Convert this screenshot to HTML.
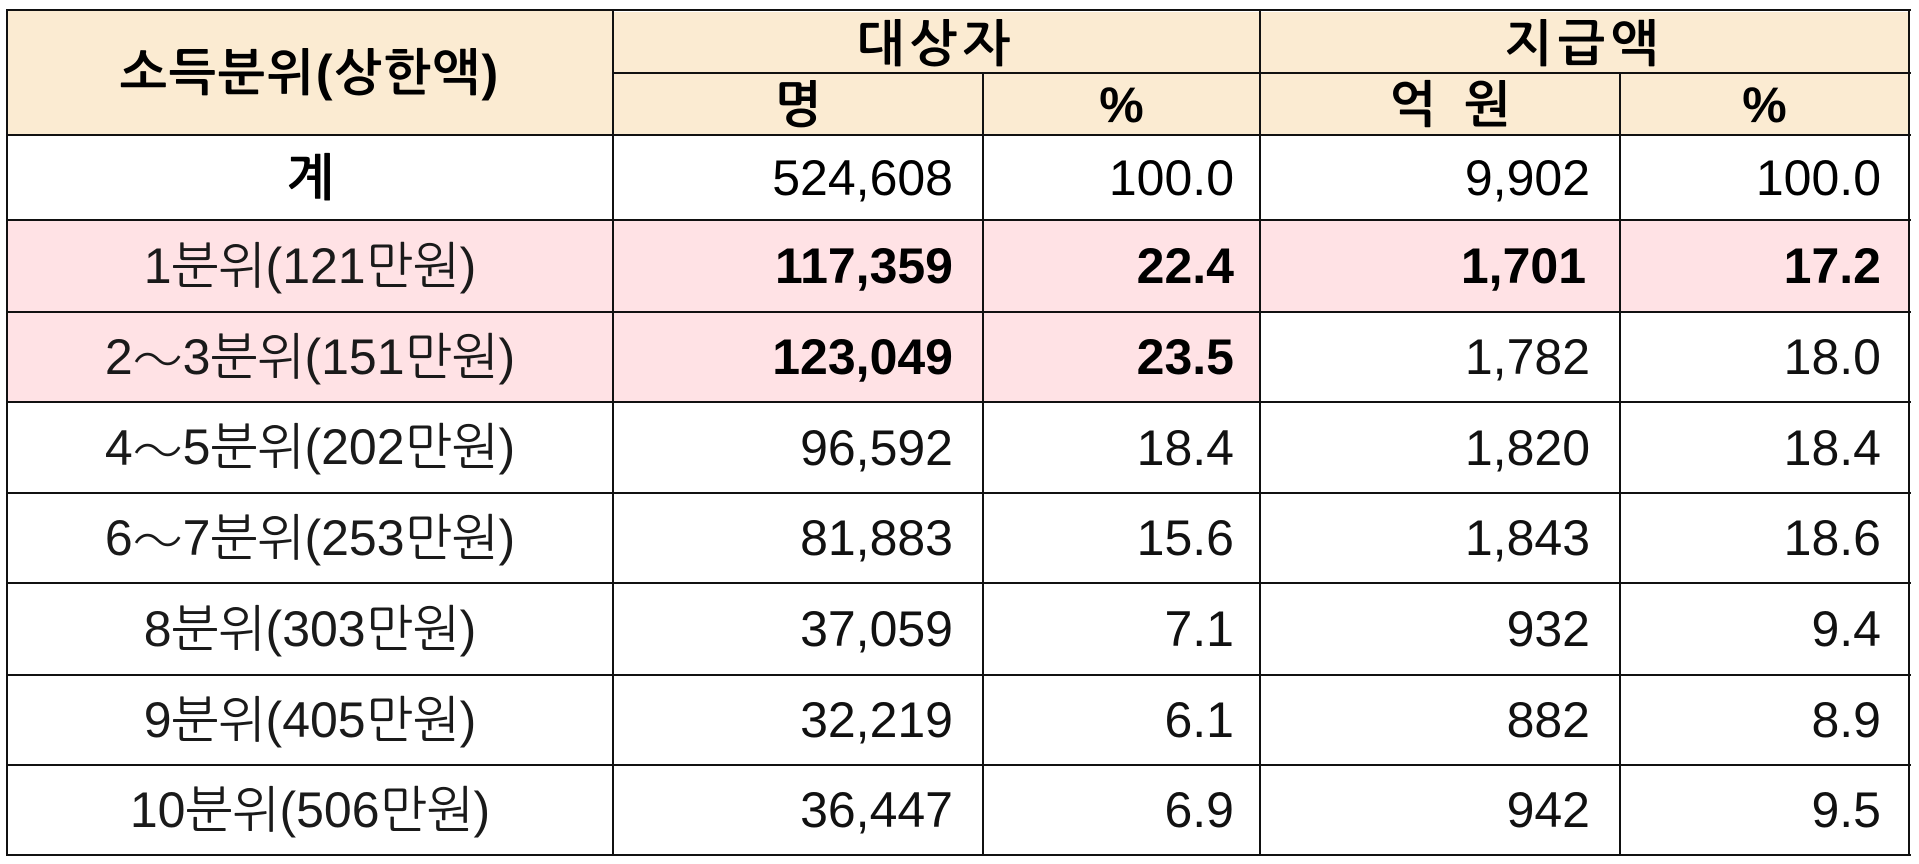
<!DOCTYPE html>
<html><head><meta charset="utf-8">
<style>
html,body{margin:0;padding:0;background:#fff;}
body{width:1919px;height:864px;position:relative;overflow:hidden;font-family:"Liberation Sans","NanumGothic","Noto Sans CJK KR",sans-serif;}
.c{position:absolute;display:flex;align-items:center;box-sizing:border-box;white-space:nowrap;color:#111;font-size:50px;}
.h{background:#FBEBD2;justify-content:center;font-weight:bold;color:#000;}
.p{background:#FFE2E5;}
.w{background:#fff;}
.l{justify-content:center;color:#1a1a1a;}
.n{justify-content:flex-end;padding-right:30px;}
.b{font-weight:bold;color:#000;}
.t{font-family:"Noto Sans CJK KR","NanumGothic",sans-serif;font-weight:300;}
.hl{position:absolute;background:#111;height:2px;}
.vl{position:absolute;background:#111;width:2px;}
</style></head><body>
<!-- header -->
<div class="c h" style="left:7px;top:10px;width:606px;height:125px;letter-spacing:2px;">소득분위(상한액)</div>
<div class="c h" style="left:613px;top:12px;width:647px;height:63px;letter-spacing:6px;">대상자</div>
<div class="c h" style="left:1260px;top:12px;width:649px;height:63px;letter-spacing:6px;">지급액</div>
<div class="c h" style="left:613px;top:75px;width:370px;height:60px;">명</div>
<div class="c h" style="left:983px;top:75px;width:277px;height:60px;">%</div>
<div class="c h" style="left:1260px;top:75px;width:360px;height:60px;padding-left:20px;">억&nbsp;&nbsp;원</div>
<div class="c h" style="left:1620px;top:75px;width:289px;height:60px;">%</div>

<!-- row 계 -->
<div class="c w l b" style="left:7px;top:135px;width:606px;height:85px;">계</div>
<div class="c w n" style="left:613px;top:135px;width:370px;height:85px;color:#000;">524,608</div>
<div class="c w n" style="left:983px;top:135px;width:277px;height:85px;padding-right:26px;color:#000;">100.0</div>
<div class="c w n" style="left:1260px;top:135px;width:360px;height:85px;color:#000;">9,902</div>
<div class="c w n" style="left:1620px;top:135px;width:289px;height:85px;padding-right:28px;color:#000;">100.0</div>

<!-- row 1 -->
<div class="c p l" style="left:7px;top:220px;width:606px;height:92px;">1분위(121만원)</div>
<div class="c p n b" style="left:613px;top:220px;width:370px;height:92px;">117,359</div>
<div class="c p n b" style="left:983px;top:220px;width:277px;height:92px;padding-right:26px;">22.4</div>
<div class="c p n b" style="left:1260px;top:220px;width:360px;height:92px;padding-right:34px;">1,701</div>
<div class="c p n b" style="left:1620px;top:220px;width:289px;height:92px;padding-right:28px;">17.2</div>

<!-- row 2~3 -->
<div class="c p l" style="left:7px;top:312px;width:606px;height:90px;">2<span class="t">～</span>3분위(151만원)</div>
<div class="c p n b" style="left:613px;top:312px;width:370px;height:90px;">123,049</div>
<div class="c p n b" style="left:983px;top:312px;width:277px;height:90px;padding-right:26px;">23.5</div>
<div class="c w n" style="left:1260px;top:312px;width:360px;height:90px;">1,782</div>
<div class="c w n" style="left:1620px;top:312px;width:289px;height:90px;padding-right:28px;">18.0</div>

<!-- row 4~5 -->
<div class="c w l" style="left:7px;top:402px;width:606px;height:91px;">4<span class="t">～</span>5분위(202만원)</div>
<div class="c w n" style="left:613px;top:402px;width:370px;height:91px;">96,592</div>
<div class="c w n" style="left:983px;top:402px;width:277px;height:91px;padding-right:26px;">18.4</div>
<div class="c w n" style="left:1260px;top:402px;width:360px;height:91px;">1,820</div>
<div class="c w n" style="left:1620px;top:402px;width:289px;height:91px;padding-right:28px;">18.4</div>

<!-- row 6~7 -->
<div class="c w l" style="left:7px;top:493px;width:606px;height:90px;">6<span class="t">～</span>7분위(253만원)</div>
<div class="c w n" style="left:613px;top:493px;width:370px;height:90px;">81,883</div>
<div class="c w n" style="left:983px;top:493px;width:277px;height:90px;padding-right:26px;">15.6</div>
<div class="c w n" style="left:1260px;top:493px;width:360px;height:90px;">1,843</div>
<div class="c w n" style="left:1620px;top:493px;width:289px;height:90px;padding-right:28px;">18.6</div>

<!-- row 8 -->
<div class="c w l" style="left:7px;top:583px;width:606px;height:92px;">8분위(303만원)</div>
<div class="c w n" style="left:613px;top:583px;width:370px;height:92px;">37,059</div>
<div class="c w n" style="left:983px;top:583px;width:277px;height:92px;padding-right:26px;">7.1</div>
<div class="c w n" style="left:1260px;top:583px;width:360px;height:92px;">932</div>
<div class="c w n" style="left:1620px;top:583px;width:289px;height:92px;padding-right:28px;">9.4</div>

<!-- row 9 -->
<div class="c w l" style="left:7px;top:675px;width:606px;height:90px;">9분위(405만원)</div>
<div class="c w n" style="left:613px;top:675px;width:370px;height:90px;">32,219</div>
<div class="c w n" style="left:983px;top:675px;width:277px;height:90px;padding-right:26px;">6.1</div>
<div class="c w n" style="left:1260px;top:675px;width:360px;height:90px;">882</div>
<div class="c w n" style="left:1620px;top:675px;width:289px;height:90px;padding-right:28px;">8.9</div>

<!-- row 10 -->
<div class="c w l" style="left:7px;top:765px;width:606px;height:90px;">10분위(506만원)</div>
<div class="c w n" style="left:613px;top:765px;width:370px;height:90px;">36,447</div>
<div class="c w n" style="left:983px;top:765px;width:277px;height:90px;padding-right:26px;">6.9</div>
<div class="c w n" style="left:1260px;top:765px;width:360px;height:90px;">942</div>
<div class="c w n" style="left:1620px;top:765px;width:289px;height:90px;padding-right:28px;">9.5</div>

<!-- horizontal lines -->
<div class="hl" style="left:7px;top:9px;width:1904px;"></div>
<div class="hl" style="left:613px;top:72px;width:1298px;"></div>
<div class="hl" style="left:7px;top:134px;width:1904px;"></div>
<div class="hl" style="left:7px;top:219px;width:1904px;"></div>
<div class="hl" style="left:7px;top:311px;width:1904px;"></div>
<div class="hl" style="left:7px;top:401px;width:1904px;"></div>
<div class="hl" style="left:7px;top:492px;width:1904px;"></div>
<div class="hl" style="left:7px;top:582px;width:1904px;"></div>
<div class="hl" style="left:7px;top:674px;width:1904px;"></div>
<div class="hl" style="left:7px;top:764px;width:1904px;"></div>
<div class="hl" style="left:7px;top:854px;width:1904px;"></div>
<!-- vertical lines -->
<div class="vl" style="left:6px;top:9px;height:847px;"></div>
<div class="vl" style="left:612px;top:9px;height:847px;"></div>
<div class="vl" style="left:982px;top:72px;height:784px;"></div>
<div class="vl" style="left:1259px;top:9px;height:847px;"></div>
<div class="vl" style="left:1619px;top:72px;height:784px;"></div>
<div class="vl" style="left:1908px;top:9px;height:847px;"></div>
</body></html>
